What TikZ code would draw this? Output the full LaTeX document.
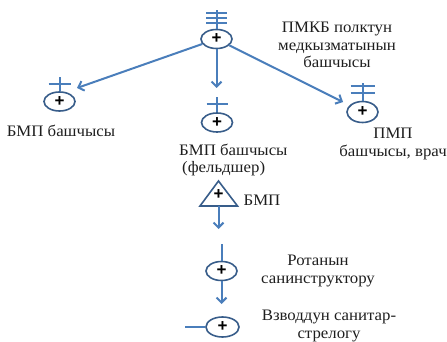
\documentclass[tikz,border=0pt]{standalone}
\usepackage{fontspec}
\setmainfont{Liberation Serif}
\newfontfamily\lblfont[FakeStretch=1.05]{Liberation Serif}
\newfontfamily\plusfont{Liberation Sans}
\usetikzlibrary{shapes.geometric,arrows.meta}
\definecolor{lineblue}{RGB}{74,126,187}
\definecolor{edgeblue}{RGB}{56,93,138}
\definecolor{txt}{RGB}{30,30,30}
\begin{document}
\begin{tikzpicture}[x=1pt,y=-1pt,
  plus/.style={font=\plusfont\bfseries\fontsize{17}{17}\selectfont, text=black},
  unit/.style={ellipse, draw=edgeblue, line width=1.6pt, minimum width=31pt, minimum height=19pt, inner sep=0pt, plus},
  conn/.style={draw=lineblue, line width=2pt},
  arr/.style={conn, -{Straight Barb[length=5pt,width=10pt,line width=2pt]}},
  lbl/.style={font=\lblfont\fontsize{16}{17.5}\selectfont, text=txt, align=center, inner sep=0pt}]
\useasboundingbox (0,0) rectangle (447,342);
% units
\node[unit] (top) at (216.5,39) {+};
\node[unit] (left) at (59.5,101.5) {+};
\node[unit] (mid) at (217,122.5) {+};
\node[unit, minimum height=21pt] (right) at (362.5,112) {+};
\node[unit] (rota) at (221.5,271) {+};
\node[unit, minimum width=33pt, minimum height=20pt] (vz) at (222.5,327) {+};
\node[plus, inner sep=0pt] (tri) at (218.5,195) {+};
\draw[edgeblue, line width=1.6pt] (218.5,181) -- (237.5,206) -- (200,206) -- cycle;
% insignia
\draw[conn] (top.north) -- ++(0,-18.5);
\foreach \d in {5.5,10.5,15.5} \draw[conn] ([shift={(-10.5,-\d)}]top.north) -- ++(21,0);
\draw[conn] (left.north) -- ++(0,-14);
\draw[conn] ([shift={(-11,-7)}]left.north) -- ++(22,0);
\draw[conn] (mid.north) -- ++(0,-15);
\draw[conn] ([shift={(-10.5,-8)}]mid.north) -- ++(21,0);
\draw[conn] (right.north) -- ++(0,-17.5);
\foreach \d in {8,15} \draw[conn] ([shift={(-12,-\d)}]right.north) -- ++(24,0);
\draw[conn] (rota.north) -- ++(0,-17);
\coordinate (vzEnd) at (185,327);
\draw[conn] (vz.west) -- (vzEnd);
% arrows
\coordinate (leftTip) at (77,88);
\coordinate (midTip) at (216.5,88);
\coordinate (rightTip) at (343,102);
\coordinate (triBase) at (218.5,206);
\coordinate (triTip) at (218.5,229);
\coordinate (vzTip) at (221.5,304);
\draw[arr] (top) -- (leftTip);
\draw[arr] (top) -- (midTip);
\draw[arr] (top) -- (rightTip);
\draw[arr] (triBase) -- (triTip);
\draw[arr] (rota) -- (vzTip);
% labels
\node[lbl] (lTop) at (337,45) {ПМКБ полктун\\медкызматынын\\башчысы};
\node[lbl] (lLeft) at (61,131) {БМП башчысы};
\node[lbl, align=left, anchor=west] (lMid) at (179,160) {БМП башчысы\\\hspace{3pt}(фельдшер)};
\node[lbl] (lRight) at (393,144) {ПМП\\башчысы, врач};
\node[lbl] (lTri) at (262,200) {БМП};
\node[lbl] (lRota) at (318,271) {Ротанын\\санинструктору};
\node[lbl] (lVz) at (329,326) {Взводдун санитар-\\стрелогу};
\end{tikzpicture}
\end{document}
